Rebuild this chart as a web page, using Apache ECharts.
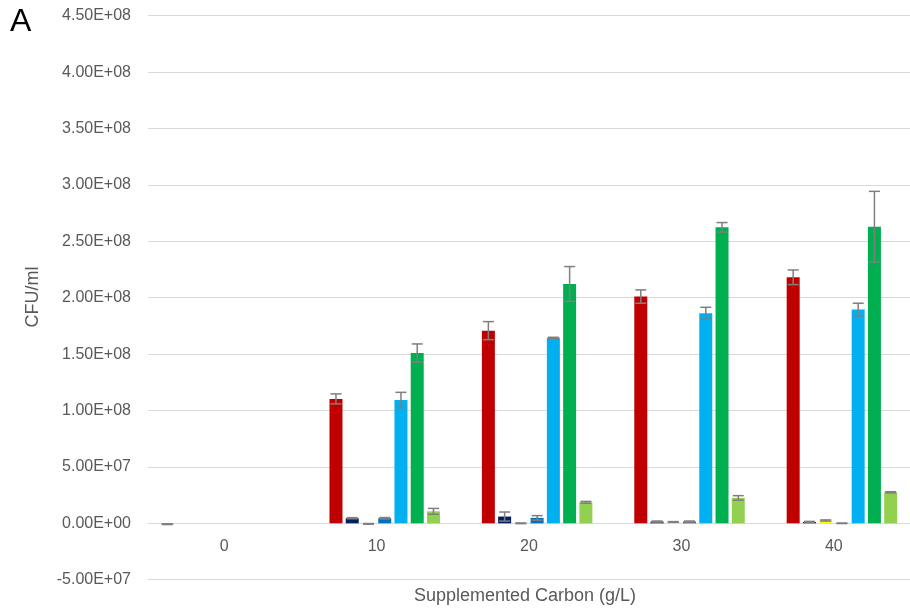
<!DOCTYPE html>
<html>
<head>
<meta charset="utf-8">
<script src="https://cdn.jsdelivr.net/npm/echarts@6/dist/echarts.min.js"></script>
<style>html,body{margin:0;padding:0;background:#fff}#c{width:910px;height:613px}</style>
</head>
<body>
<div id="c"></div>
<script>
const categories = ['0', '10', '20', '30', '40'];
const yTicks = { min: -5e7, max: 4.5e8, interval: 5e7 };

const colors = ['#A5A5A5', '#C00000', '#002060', '#FFFF00', '#0070C0', '#00B0F0', '#00B050', '#92D050'];

const s0 = [-8e5, null, null, null, null];
const s1 = [0, 1.103e8, 1.708e8, 2.010e8, 2.181e8];
const s2 = [0, 4.5e6, 6.0e6, 1.5e6, 1.2e6];
const s3 = [0, -5e5, 0, 1.2e6, 2.5e6];
const s4 = [0, 4.5e6, 4.8e6, 1.5e6, 0];
const s5 = [0, 1.094e8, 1.644e8, 1.862e8, 1.895e8];
const s6 = [0, 1.51e8, 2.122e8, 2.624e8, 2.63e8];
const s7 = [0, 1.06e7, 1.86e7, 2.25e7, 2.75e7];

const e0 = [3e5, null, null, null, null];
const e1 = [null, 4.4e6, 8.0e6, 5.9e6, 6.5e6];
const e2 = [null, 5e5, 4.0e6, 5e5, 5e5];
const e3 = [null, 3e5, 3e5, 3e5, 5e5];
const e4 = [null, 6e5, 2.0e6, 5e5, 2e5];
const e5 = [null, 6.7e6, 5e5, 5.3e6, 5.6e6];
const e6 = [null, 8.0e6, 1.54e7, 4.2e6, 3.13e7];
const e7 = [null, 2.6e6, 8e5, 2.0e6, 5e5];

const values = [s0, s1, s2, s3, s4, s5, s6, s7];
const errors = [e0, e1, e2, e3, e4, e5, e6, e7];

const BAR_W = 13, GAP_PX = 3.25;
const STEP = BAR_W + GAP_PX;
const N = values.length;

function fmtE(v) {
  if (v === 0) return '0.00E+00';
  const sign = v < 0 ? '-' : '';
  const a = Math.abs(v);
  let e = Math.floor(Math.log10(a));
  let m = a / Math.pow(10, e);
  if (+m.toFixed(2) >= 10) { m /= 10; e += 1; }
  return sign + m.toFixed(2) + 'E' + (e < 0 ? '-' : '+') + String(Math.abs(e)).padStart(2, '0');
}

const GRID = { left: 148, right: -9, top: 15.7, bottom: 33.3 };
const H = 613;
const plotH = H - GRID.top - GRID.bottom;
// distance from bottom edge of plot to the zero line, derived from the axis range
const zeroOffset = plotH * (0 - yTicks.min) / (yTicks.max - yTicks.min);

const series = [];
values.forEach((vals, i) => {
  series.push({
    type: 'bar',
    data: vals,
    barWidth: BAR_W,
    barGap: (GAP_PX / BAR_W * 100) + '%',
    itemStyle: { color: colors[i] },
    z: 2
  });
});
values.forEach((vals, i) => {
  const d = [];
  vals.forEach((v, k) => {
    if (v !== null && errors[i][k] !== null) d.push([k, v, errors[i][k]]);
  });
  const offset = (i - (N - 1) / 2) * STEP;
  series.push({
    type: 'custom',
    data: d,
    z: 5,
    silent: true,
    renderItem: function (params, api) {
      const k = api.value(0), v = api.value(1), er = api.value(2);
      const hi = api.coord([k, v + er]);
      const lo = api.coord([k, v - er]);
      const x = hi[0] + offset;
      const cw = 5.5;
      const st = { stroke: '#7F7F7F', lineWidth: 1.5 };
      return {
        type: 'group',
        children: [
          { type: 'line', shape: { x1: x, y1: hi[1], x2: x, y2: lo[1] }, style: st },
          { type: 'line', shape: { x1: x - cw, y1: hi[1], x2: x + cw, y2: hi[1] }, style: st },
          { type: 'line', shape: { x1: x - cw, y1: lo[1], x2: x + cw, y2: lo[1] }, style: st }
        ]
      };
    }
  });
});

const chart = echarts.init(document.getElementById('c'), null, { renderer: 'canvas' });
chart.setOption({
  animation: false,
  backgroundColor: '#fff',
  grid: { left: GRID.left, right: GRID.right, top: GRID.top, bottom: GRID.bottom, containLabel: false },
  xAxis: {
    type: 'category',
    data: categories,
    position: 'bottom',
    offset: -zeroOffset,
    axisLine: { onZero: false, lineStyle: { color: '#D9D9D9', width: 1 } },
    axisTick: { show: false },
    axisLabel: { color: '#595959', fontSize: 16, fontFamily: 'Liberation Sans, Arial, sans-serif', margin: 15 },
    splitLine: { show: false }
  },
  yAxis: {
    type: 'value',
    min: yTicks.min, max: yTicks.max, interval: yTicks.interval,
    axisLine: { show: false },
    axisTick: { show: false },
    axisLabel: { color: '#595959', fontSize: 16, fontFamily: 'Liberation Sans, Arial, sans-serif', margin: 17, formatter: fmtE },
    splitLine: { lineStyle: { color: '#D9D9D9', width: 1 } }
  },
  graphic: [
    { type: 'text', left: 10, top: 6, style: { text: 'A', font: '32px "Liberation Sans", Arial, sans-serif', fill: '#000' } },
    { type: 'text', x: 525, y: 596, style: { text: 'Supplemented Carbon (g/L)', font: '18px "Liberation Sans", Arial, sans-serif', fill: '#595959', textAlign: 'center', textVerticalAlign: 'middle' } },
    { type: 'text', x: 33, y: 297, rotation: Math.PI / 2, style: { text: 'CFU/ml', font: '18px "Liberation Sans", Arial, sans-serif', fill: '#595959', textAlign: 'center', textVerticalAlign: 'middle' } }
  ],
  series: series
});
</script>
</body>
</html>
